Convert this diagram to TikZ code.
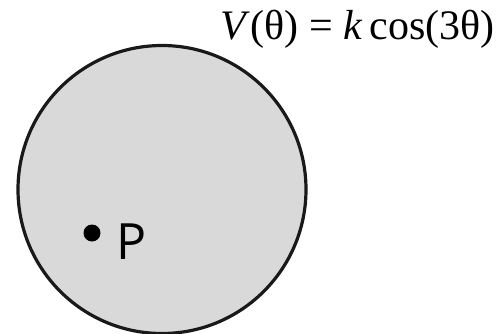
\documentclass[tikz,border=0pt]{standalone}
\usepackage{fontspec}
\setmainfont{Liberation Serif}
\newfontfamily\labelfont{Open Sans}
\definecolor{disk}{HTML}{D9D9D9}
\begin{document}
\begin{tikzpicture}[x=1pt,y=-1pt,
  diskstyle/.style={draw=black!90,line width=3.2pt,fill=disk},
  formula/.style={font=\fontsize{42}{46}\selectfont,inner sep=0pt},
  plabel/.style={font=\labelfont\fontsize{50}{54}\selectfont,inner sep=0pt}]
\useasboundingbox (0,0) rectangle (496,333);
\node[diskstyle,circle,minimum size=288pt,inner sep=0pt] (disk) at (162,189.5) {};
\fill (92,233) circle (8.5pt);
\coordinate (p) at (92,233);
\node[plabel,anchor=base west] (P) at (116,259) {P};
\node[formula,anchor=base east] (V) at (495,39) {\textit{V}(θ) = \textit{k}\,cos(3θ)};
\end{tikzpicture}
\end{document}
